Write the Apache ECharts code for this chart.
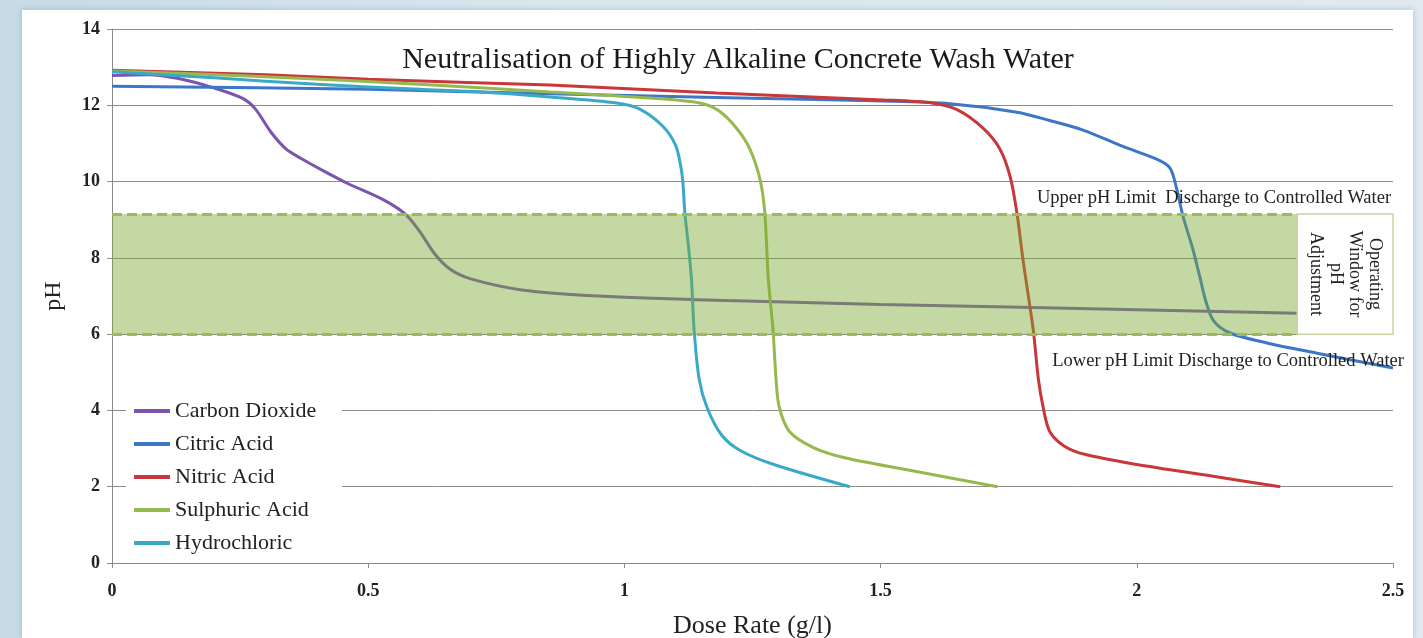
<!DOCTYPE html>
<html><head><meta charset="utf-8">
<script src="https://cdn.jsdelivr.net/npm/echarts@6/dist/echarts.min.js"></script>
<style>
html,body{margin:0;padding:0;width:1423px;height:638px;overflow:hidden;background:linear-gradient(90deg,#c6dbe6,#dbe8ef 40%,#dfeaf1);}
#panel{position:absolute;left:22px;top:10px;width:1391px;height:628px;background:#fff;box-shadow:0 0 6px rgba(120,150,170,0.5);}
#chart{position:absolute;left:0;top:0;width:1423px;height:638px;}
</style></head><body><div id="panel"></div><div id="chart"></div>
<script>
// ---- data (dose g/l, pH) ----
const seriesNames = ['Carbon Dioxide','Citric Acid','Nitric Acid','Sulphuric Acid','Hydrochloric'];
const carbonDioxide = [[0,12.78],[0.07,12.8],[0.13,12.7],[0.2,12.45],[0.255,12.18],[0.28,11.9],[0.31,11.3],[0.34,10.85],[0.37,10.6],[0.41,10.3],[0.46,9.95],[0.53,9.52],[0.572,9.15],[0.60,8.7],[0.63,8.1],[0.66,7.7],[0.70,7.45],[0.80,7.16],[0.95,7.0],[1.2,6.88],[1.5,6.78],[2.0,6.64],[2.313,6.55]];
const citricAcid = [[0,12.5],[0.5,12.42],[0.855,12.3],[1.2,12.2],[1.505,12.11],[1.635,12.04],[1.766,11.82],[1.83,11.6],[1.895,11.35],[1.973,10.92],[2.04,10.58],[2.065,10.35],[2.078,9.8],[2.09,9.1],[2.11,8.2],[2.123,7.5],[2.135,6.85],[2.15,6.35],[2.182,6.03],[2.254,5.77],[2.352,5.5],[2.5,5.11]];
const nitricAcid = [[0,12.92],[0.3,12.8],[0.5,12.68],[0.855,12.53],[1.18,12.32],[1.505,12.14],[1.6,12.06],[1.65,11.88],[1.70,11.4],[1.733,10.85],[1.753,10.12],[1.766,9.18],[1.778,7.94],[1.798,6.1],[1.808,4.81],[1.818,4.03],[1.83,3.45],[1.858,3.07],[1.898,2.85],[1.997,2.59],[2.146,2.28],[2.28,2.0]];
const sulphuricAcid = [[0,12.9],[0.3,12.75],[0.6,12.55],[0.855,12.35],[1.05,12.19],[1.147,12.06],[1.185,11.85],[1.22,11.38],[1.245,10.85],[1.265,10.04],[1.274,9.18],[1.281,7.42],[1.29,6.12],[1.296,4.81],[1.302,4.1],[1.322,3.45],[1.37,3.02],[1.43,2.76],[1.549,2.45],[1.728,2.0]];
const hydrochloric = [[0,12.88],[0.2,12.72],[0.4,12.55],[0.6,12.42],[0.72,12.35],[0.855,12.22],[0.985,12.06],[1.03,11.9],[1.075,11.45],[1.1,10.95],[1.11,10.4],[1.114,10.0],[1.118,9.18],[1.125,8.3],[1.131,7.42],[1.136,6.12],[1.146,4.81],[1.162,4.05],[1.19,3.35],[1.226,2.95],[1.29,2.59],[1.44,2.0]];
const upperLimit = 9.15, lowerLimit = 6.0, bandEnd = 2.313;
const xMin = 0, xMax = 2.5, xStep = 0.5;
const yMin = 0, yMax = 14, yStep = 2;
const titleText = 'Neutralisation of Highly Alkaline Concrete Wash Water';
const upperText = 'Upper pH Limit  Discharge to Controlled Water';
const lowerText = 'Lower pH Limit Discharge to Controlled Water';
const windowText = 'Operating\nWindow for\npH\nAdjustment';

const colors = ['#7b55ad','#3c76c6','#c9373a','#96b94e','#3aa9c9'];
const allData = [carbonDioxide, citricAcid, nitricAcid, sulphuricAcid, hydrochloric];
const serif = '"Liberation Serif", "DejaVu Serif", serif';

const chart = echarts.init(document.getElementById('chart'));
const lineSeries = seriesNames.map((n,i)=>({
  name:n, type:'line', data:allData[i], showSymbol:false, symbol:'none',
  smooth:0.3, z:2,
  lineStyle:{color:colors[i], width:3}, itemStyle:{color:colors[i]}
}));
lineSeries.push({
  name:'band', type:'line', data:[], z:5, silent:true,
  markArea:{silent:true, z:6, data:[
    [{xAxis:xMin, yAxis:lowerLimit, itemStyle:{color:'rgba(122,168,52,0.45)'}},{xAxis:bandEnd, yAxis:upperLimit}],
    [{xAxis:bandEnd, yAxis:lowerLimit, itemStyle:{color:'#ffffff', borderColor:'#c3d69b', borderWidth:1.5}},{xAxis:xMax, yAxis:upperLimit}]
  ]},
  markLine:{silent:true, z:7, symbol:'none', label:{show:false},
    lineStyle:{color:'#9bbb59', width:3, type:[10,5]},
    data:[
      [{coord:[xMin,upperLimit]},{coord:[bandEnd,upperLimit]}],
      [{coord:[xMin,lowerLimit]},{coord:[bandEnd,lowerLimit]}]
    ]}
});

chart.setOption({
  animation:false,
  backgroundColor:'transparent',
  title:{text:titleText, left:733, textAlign:'center', top:40,
    textStyle:{fontFamily:serif, fontSize:30, fontWeight:'normal', color:'#1a1a1a'}},
  grid:{left:112, right:30, top:29, bottom:75, containLabel:false, outerBoundsMode:'none'},
  legend:{data:seriesNames, orient:'vertical', left:126, top:394, icon:'rect',
    itemWidth:36, itemHeight:4, itemGap:11, backgroundColor:'#fff', padding:[6,26,6,8],
    textStyle:{fontFamily:serif, fontSize:22, color:'#222'}},
  xAxis:{type:'value', min:xMin, max:xMax, interval:xStep,
    name:'Dose Rate (g/l)', nameLocation:'middle', nameGap:50,
    nameTextStyle:{fontFamily:serif, fontSize:26, color:'#222'},
    axisLine:{lineStyle:{color:'#8a8a8a', width:1}},
    axisTick:{show:true, length:5, lineStyle:{color:'#8a8a8a'}},
    axisLabel:{fontFamily:serif, fontSize:18, fontWeight:'bold', color:'#222', margin:19},
    splitLine:{show:false}},
  yAxis:{type:'value', min:yMin, max:yMax, interval:yStep,
    name:'pH', nameLocation:'middle', nameGap:46,
    nameTextStyle:{fontFamily:serif, fontSize:24, color:'#222'},
    axisLine:{show:true, lineStyle:{color:'#8a8a8a', width:1}},
    axisTick:{show:true, length:5, lineStyle:{color:'#8a8a8a'}},
    axisLabel:{fontFamily:serif, fontSize:18, fontWeight:'bold', color:'#222', margin:12},
    splitLine:{show:true, lineStyle:{color:'#8c8c8c', width:1}}},
  series:lineSeries
});

function px(x,y){return chart.convertToPixel({xAxisIndex:0,yAxisIndex:0},[x,y]);}
const pUp = px(1.805, 9.57);
const pLow = px(1.835, 5.3);
const pWin = px((bandEnd+xMax)/2, (upperLimit+lowerLimit)/2);
chart.setOption({graphic:[
  {type:'text', x:pUp[0], y:pUp[1], z:10, style:{text:upperText, font:'18.5px '+serif, fill:'#222', align:'left', verticalAlign:'middle'}},
  {type:'text', x:pLow[0], y:pLow[1], z:10, style:{text:lowerText, font:'18.5px '+serif, fill:'#222', align:'left', verticalAlign:'middle'}},
  {type:'text', x:pWin[0], y:pWin[1], rotation:-Math.PI/2, z:10, style:{text:windowText, font:'18px '+serif, fill:'#222', align:'center', verticalAlign:'middle', lineHeight:19.5}}
]});
</script></body></html>
